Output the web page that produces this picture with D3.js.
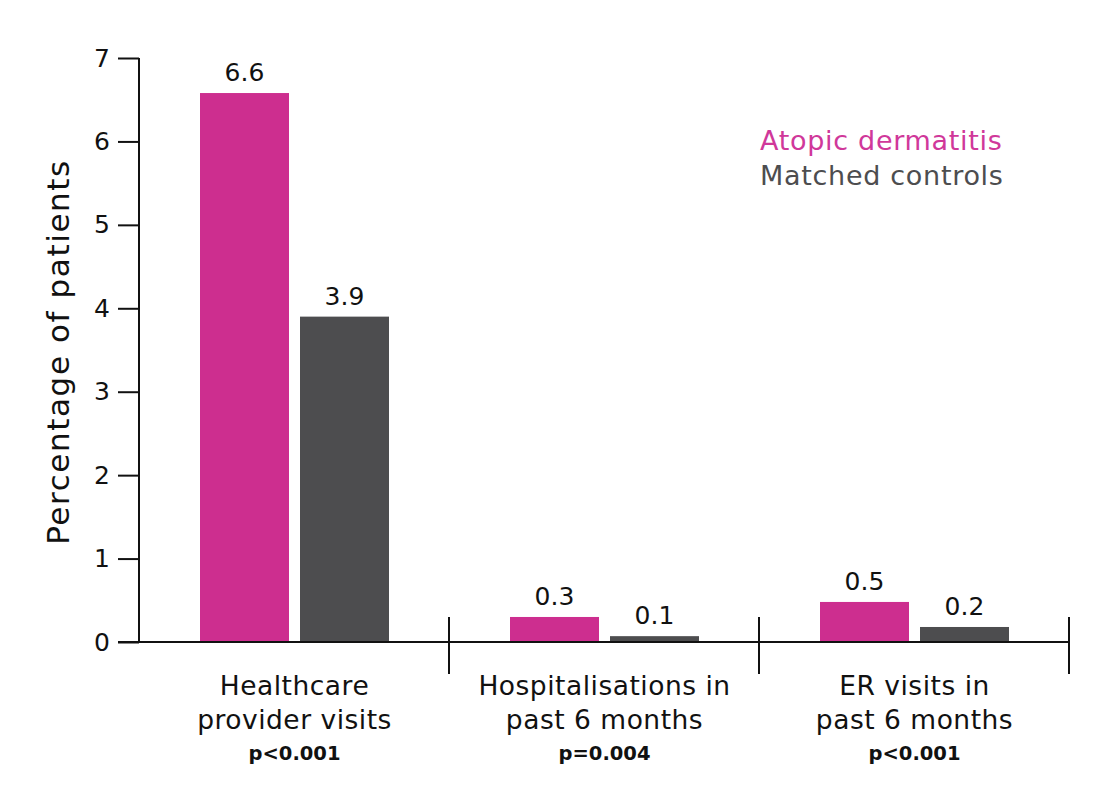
<!DOCTYPE html>
<html><head><meta charset="utf-8">
<script src="https://cdn.jsdelivr.net/npm/d3@7"></script>
<style>body{margin:0;background:#fff}svg{display:block}text{font-family:"DejaVu Sans",sans-serif}</style>
</head><body><svg id="c" width="1113" height="798"></svg>
<script>
const categories = [["Healthcare","provider visits"],["Hospitalisations in","past 6 months"],["ER visits in","past 6 months"]];
const pValues = ["p<0.001","p=0.004","p<0.001"];
const seriesNames = ["Atopic dermatitis","Matched controls"];
const atopic = [6.58, 0.30, 0.48];
const controls = [3.90, 0.07, 0.18];
const valueLabels = [["6.6","3.9"],["0.3","0.1"],["0.5","0.2"]];
const yTicks = [0,1,2,3,4,5,6,7];
const colors = ["#CD2E8F","#4D4D4F"];

const svg = d3.select("#c");
const y = d3.scaleLinear().domain([0,7]).range([642,58]);
const x0 = d3.scaleBand().domain(d3.range(categories.length)).range([139,1069]).padding(0);
const x1 = d3.scaleBand().domain(seriesNames).range([61,250]).paddingInner(0.11).paddingOuter(0);

// y axis
const yAxis = d3.axisLeft(y).tickValues(yTicks).tickSize(21).tickPadding(8).tickFormat(d3.format("d"));
const ga = svg.append("g").attr("transform","translate(139,0)").call(yAxis);
ga.select(".domain").attr("stroke","#111").attr("stroke-width",2).attr("d","M0,58V642");
ga.selectAll(".tick line").attr("stroke","#111").attr("stroke-width",2);
ga.selectAll(".tick text").attr("font-size",25).attr("fill","#111").style("font-family","'DejaVu Sans',sans-serif");

// y title
svg.append("text").attr("transform","translate(69,352) rotate(-90)").attr("text-anchor","middle")
  .attr("font-size",31).attr("letter-spacing",1.6).attr("fill","#111").text("Percentage of patients");

// bars
const data = categories.map((c,i)=>({i, vals:[atopic[i],controls[i]]}));
const groups = svg.append("g").selectAll("g").data(data).join("g")
  .attr("transform",d=>`translate(${x0(d.i)},0)`);
groups.selectAll("rect").data(d=>d.vals.map((v,k)=>({v,k,s:seriesNames[k]}))).join("rect")
  .attr("x",d=>x1(d.s)).attr("width",x1.bandwidth())
  .attr("y",d=>y(d.v)).attr("height",d=>y(0)-y(d.v)).attr("fill",d=>colors[d.k]);
groups.selectAll("text.val").data(d=>d.vals.map((v,k)=>({v,k,s:seriesNames[k],lab:valueLabels[d.i][k]}))).join("text")
  .attr("class","val").attr("x",d=>x1(d.s)+x1.bandwidth()/2).attr("y",d=>y(d.v)-12)
  .attr("text-anchor","middle").attr("font-size",25).attr("fill","#111").text(d=>d.lab);

// baseline and separators
svg.append("line").attr("x1",118).attr("x2",x0.range()[1]).attr("y1",y(0)).attr("y2",y(0)).attr("stroke","#111").attr("stroke-width",2);
svg.append("g").selectAll("line").data(d3.range(1,categories.length+1)).join("line")
  .attr("x1",d=>x0.range()[0]+d*x0.step()).attr("x2",d=>x0.range()[0]+d*x0.step())
  .attr("y1",617).attr("y2",674).attr("stroke","#111").attr("stroke-width",2);

// category labels
const cl = svg.append("g").selectAll("g").data(data).join("g")
  .attr("transform",d=>`translate(${x0(d.i)+(x1.range()[0]+x1.range()[1])/2},0)`);
cl.append("text").attr("y",695).attr("text-anchor","middle").attr("font-size",26.5).attr("letter-spacing",0.5).attr("fill","#111").text(d=>categories[d.i][0]);
cl.append("text").attr("y",729).attr("text-anchor","middle").attr("font-size",26.5).attr("letter-spacing",0.5).attr("fill","#111").text(d=>categories[d.i][1]);
cl.append("text").attr("y",760).attr("text-anchor","middle").attr("font-size",19.5).attr("fill","#111").attr("font-weight",700).text(d=>pValues[d.i]);

// legend
svg.append("g").selectAll("text").data(seriesNames).join("text")
  .attr("x",760).attr("y",(d,i)=>150+i*35).attr("font-size",27).attr("letter-spacing",0.7).attr("fill",(d,i)=>i===0?"#D0389A":"#4D4D4F").text(d=>d);
</script></body></html>
